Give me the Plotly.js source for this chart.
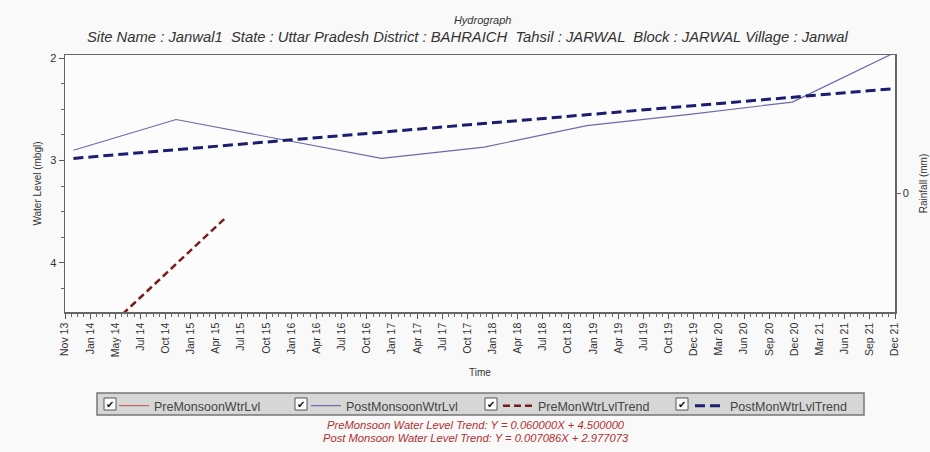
<!DOCTYPE html>
<html><head><meta charset="utf-8">
<script src="https://cdn.plot.ly/plotly-3.0.1.min.js"></script>
<style>html,body{margin:0;padding:0;background:#f9f9f9}</style>
</head><body><div id="chart" style="width:930px;height:452px"></div>
<script>
const TICK_LABELS = ['Nov 13','Jan 14','May 14','Jul 14','Oct 14','Jan 15','Apr 15','Jul 15','Oct 15','Jan 16','Apr 16','Jul 16','Oct 16','Jan 17','Apr 17','Jul 17','Oct 17','Jan 18','Apr 18','Jul 18','Oct 18','Jan 19','Apr 19','Jul 19','Oct 19','Dec 19','Mar 20','Jun 20','Sep 20','Dec 20','Mar 21','Jun 21','Sep 21','Dec 21'];
const X_START = '2013-11-01';
const X_END = '2021-12-01';

const PRE_DATES = ['2014-05-25'];
const PRE_LEVELS = [null];
const POST_DATES = ['2013-12-01','2014-12-01','2016-12-01','2017-12-01','2018-12-01','2019-12-01','2020-12-01','2021-11-20'];
const POST_LEVELS = [2.90, 2.60, 2.98, 2.87, 2.66, 2.55, 2.43, 1.96];
const PRE_TREND_DATES = ['2014-05-25','2015-05-30'];
const PRE_TREND_LEVELS = [4.50, 3.55];
const POST_TREND_DATES = ['2013-12-01','2021-11-20'];
const POST_TREND_LEVELS = [2.98, 2.30];
const TREND_TEXT = [
  'PreMonsoon Water Level Trend: Y = 0.060000X + 4.500000',
  'Post Monsoon Water Level Trend: Y = 0.007086X + 2.977073'
];
const SERIES_NAMES = ['PreMonsoonWtrLvl','PostMonsoonWtrLvl','PreMonWtrLvlTrend','PostMonWtrLvlTrend'];

const t0 = new Date(X_START + 'T00:00:00Z').getTime();
const t1 = new Date(X_END + 'T00:00:00Z').getTime();
const step = (t1 - t0) / (TICK_LABELS.length - 1);
const tickVals = TICK_LABELS.map((_, i) => new Date(t0 + i * step).toISOString().slice(0, 19).replace('T', ' '));

const traces = [
  {x: PRE_DATES, y: PRE_LEVELS, name: SERIES_NAMES[0], mode: 'lines', line: {color: '#c05050', width: 1}},
  {x: POST_DATES, y: POST_LEVELS, name: SERIES_NAMES[1], mode: 'lines', line: {color: '#6a6aac', width: 1.2}},
  {x: PRE_TREND_DATES, y: PRE_TREND_LEVELS, name: SERIES_NAMES[2], mode: 'lines', line: {color: '#7a1c1c', width: 2.5, dash: '7px,4px'}},
  {x: POST_TREND_DATES, y: POST_TREND_LEVELS, name: SERIES_NAMES[3], mode: 'lines', line: {color: '#1c1c70', width: 3, dash: '10px,5px'}},
  {x: [X_START], y: [0], yaxis: 'y2', mode: 'lines', showlegend: false, hoverinfo: 'skip', line: {color: 'rgba(0,0,0,0)'}}
];

const font = {family: 'Liberation Sans, Arial, sans-serif', color: '#333'};
const px = v => (v - 65) / 830;
const py = v => (312 - v) / 257;

// legend frame and check boxes
const shapes = [
  {type: 'rect', xref: 'paper', yref: 'paper', x0: px(97), x1: px(864), y0: py(415), y1: py(393),
   fillcolor: '#d6d6d6', line: {color: '#777', width: 1.5}, layer: 'above'}
];
const checkX = [110, 301, 491, 682];
const annotations = [
  {text: 'Site Name : Janwal1  State : Uttar Pradesh District : BAHRAICH  Tahsil : JARWAL  Block : JARWAL Village : Janwal',
   xref: 'paper', yref: 'paper', x: px(467), y: py(37), xanchor: 'center', yanchor: 'middle', showarrow: false,
   font: {family: font.family, size: 14.8, color: '#333', style: 'italic'}},
  {text: TREND_TEXT[0], xref: 'paper', yref: 'paper', x: px(476), y: py(425), xanchor: 'center', yanchor: 'middle',
   showarrow: false, font: {family: font.family, size: 11.2, color: '#b03030', style: 'italic'}},
  {text: TREND_TEXT[1], xref: 'paper', yref: 'paper', x: px(476), y: py(438), xanchor: 'center', yanchor: 'middle',
   showarrow: false, font: {family: font.family, size: 11.2, color: '#b03030', style: 'italic'}}
];
checkX.forEach(cx => {
  shapes.push({type: 'rect', xref: 'paper', yref: 'paper', x0: px(cx - 6), x1: px(cx + 6), y0: py(410), y1: py(398),
               fillcolor: '#ffffff', line: {color: '#555', width: 1}, layer: 'above'});
  annotations.push({text: '✔', xref: 'paper', yref: 'paper', x: px(cx), y: py(404), xanchor: 'center', yanchor: 'middle',
                    showarrow: false, font: {family: 'DejaVu Sans', size: 10, color: '#111'}});
});

const layout = {
  width: 930, height: 452,
  paper_bgcolor: '#f9f9f9', plot_bgcolor: '#fcfcfc',
  margin: {l: 65, r: 35, t: 55, b: 140},
  font: Object.assign({size: 10}, font),
  title: {text: 'Hydrograph', x: 0.519, xanchor: 'center', y: 0.956, yanchor: 'middle', yref: 'container',
          font: {family: font.family, color: '#333', size: 11, style: 'italic'}},
  showlegend: true,
  legend: {orientation: 'h', x: px(114), xanchor: 'left', y: py(391), yanchor: 'top',
           bgcolor: 'rgba(0,0,0,0)', borderwidth: 0,
           entrywidth: 147, entrywidthmode: 'pixels', itemwidth: 30,
           font: {family: font.family, color: '#444', size: 12.5}},
  xaxis: {type: 'date', range: [X_START, X_END], tickmode: 'array', tickvals: tickVals, ticktext: TICK_LABELS,
          tickangle: -90, ticks: 'outside', ticklen: 5, tickcolor: '#555', tickfont: {size: 10.5, color: '#333'},
          minor: {ticks: 'outside', ticklen: 3, tickcolor: '#666', dtick: step / 4, tick0: X_START, showgrid: false},
          showgrid: false, zeroline: false, showline: true, mirror: true, linecolor: '#666', linewidth: 1.5,
          title: {text: 'Time', standoff: 13, font: {size: 10, color: '#333'}}},
  yaxis: {range: [4.48, 1.97], tickvals: [2, 3, 4], ticks: 'outside', ticklen: 5, tickcolor: '#555',
          tickfont: {size: 11, color: '#333'},
          minor: {ticks: 'outside', ticklen: 3, tickcolor: '#666', dtick: 0.25, showgrid: false},
          showgrid: false, zeroline: false, showline: true, mirror: true, linecolor: '#666', linewidth: 1.5,
          title: {text: 'Water Level (mbgl)', standoff: 6, font: {size: 10, color: '#333'}}},
  yaxis2: {overlaying: 'y', side: 'right', range: [-0.463, 0.537], tickvals: [0], ticktext: ['0'],
           ticks: 'outside', ticklen: 4, tickcolor: '#666', tickfont: {size: 11, color: '#333'},
           showgrid: false, zeroline: false, showline: true, linecolor: '#666', linewidth: 1.5,
           title: {text: 'Rainfall (mm)', standoff: 12, font: {size: 10, color: '#333'}}},
  shapes: shapes,
  annotations: annotations
};

Plotly.newPlot('chart', traces, layout, {displayModeBar: false, staticPlot: true});
</script></body></html>
